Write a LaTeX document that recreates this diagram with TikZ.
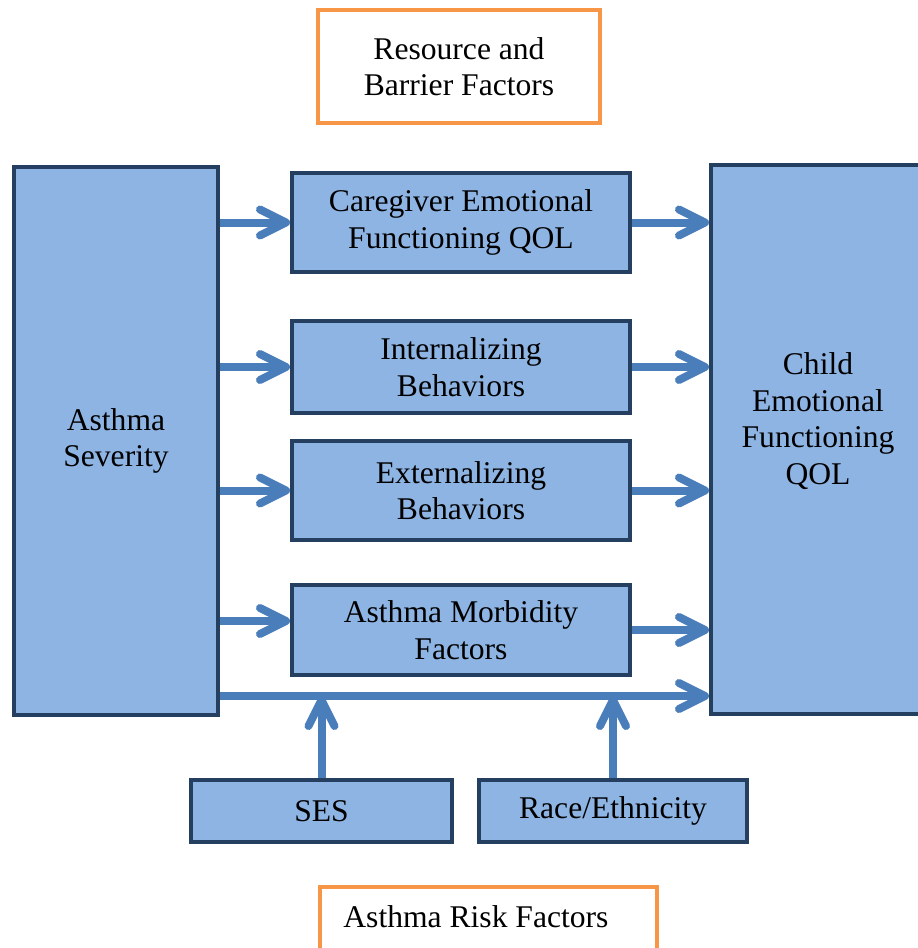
\documentclass[tikz,border=0pt]{standalone}
\usepackage{fontspec}
\setmainfont{Liberation Serif}
\usetikzlibrary{arrows.meta, positioning, calc}
\definecolor{boxfill}{HTML}{8EB4E3}
\definecolor{boxline}{HTML}{243F60}
\definecolor{flowblue}{HTML}{4A7EBB}
\definecolor{frameorange}{HTML}{F79646}

\begin{document}
\begin{tikzpicture}[x=0.5pt, y=-0.5pt,
  font=\fontsize{15.8}{18.3}\selectfont,
  box/.style={draw=boxline, fill=boxfill, line width=2pt, align=center, inner sep=0pt},
  frame/.style={draw=frameorange, line width=2.2pt, align=center, inner sep=0pt},
  flow/.style={draw=flowblue, line width=4pt, -{Straight Barb[length=13pt, width=13pt, round]}}]

\useasboundingbox (0,0) rectangle (917,948);

% orange frames
\node[frame, minimum width=141pt, minimum height=56.5pt] (res) at (459,66.5) {Resource and\\Barrier Factors};
\node[frame, minimum width=168.5pt, minimum height=40pt, anchor=north west] (risk) at (318,885) {};
\node[anchor=west, inner sep=0pt] (risktxt) at (343,917) {Asthma Risk Factors};

% left and right blocks
\node[box, minimum width=102pt, minimum height=274pt] (sev) at (116,441) {Asthma\\Severity};
\node[box, minimum width=107pt, minimum height=274.5pt] (child) at (818,439.5) {};
\node[align=center] (childtxt) at (818,421) {Child\\Emotional\\Functioning\\QOL};

% middle boxes
\node[box, minimum width=169pt, minimum height=49.5pt] (care) at (461,222.5) {Caregiver Emotional\\Functioning QOL};
\node[box, minimum width=169pt, minimum height=46pt] (intb) at (461,367) {Internalizing\\Behaviors};
\node[box, minimum width=169pt, minimum height=49.5pt] (extb) at (461,490.5) {Externalizing\\Behaviors};
\node[box, minimum width=169pt, minimum height=45pt] (morb) at (461,630) {Asthma Morbidity\\Factors};

% bottom boxes
\node[box, minimum width=130.5pt, minimum height=31pt] (ses) at (321.5,811) {SES};
\node[box, minimum width=134pt, minimum height=31pt] (race) at (613,811) {Race/Ethnicity};

% arrows
\foreach \m in {care, intb, extb} {
  \draw[flow] (sev.east |- \m.west) -- (\m.west);
  \draw[flow] (\m.east) -- (child.west |- \m.east);
}
\draw[flow] ($(sev.east |- morb.west)+(0,-9)$) -- ($(morb.west)+(0,-9)$);
\draw[flow] (morb.east) -- (child.west |- morb.east);

\coordinate (base) at ($(sev.south east)+(0,-21)$);
\draw[flow] (base) -- (child.west |- base);
\draw[flow] (ses.north) -- (ses.north |- base);
\draw[flow] (race.north) -- (race.north |- base);

\end{tikzpicture}
\end{document}
